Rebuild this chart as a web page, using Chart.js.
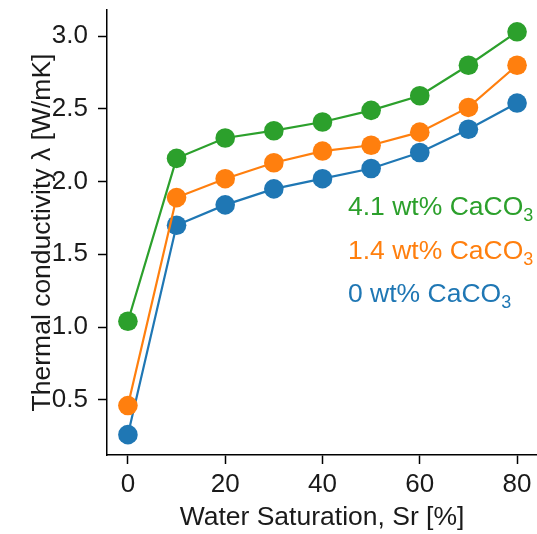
<!DOCTYPE html>
<html>
<head>
<meta charset="utf-8">
<script src="https://cdn.jsdelivr.net/npm/chart.js@4/dist/chart.umd.min.js"></script>
<style>
  html, body { margin: 0; padding: 0; background: #fff; }
  #wrap { width: 537px; height: 534px; position: relative; }
</style>
</head>
<body>
<div id="wrap"><canvas id="c" width="537" height="534"></canvas></div>
<script>
// ---- data ----
const saturation = [0, 10, 20, 30, 40, 50, 60, 70, 80];
const k_0wt   = [0.26, 1.70, 1.84, 1.95, 2.02, 2.09, 2.20, 2.36, 2.54];
const k_1_4wt = [0.46, 1.89, 2.02, 2.13, 2.21, 2.25, 2.34, 2.51, 2.80];
const k_4_1wt = [1.04, 2.16, 2.30, 2.35, 2.41, 2.49, 2.59, 2.80, 3.03];
const seriesNames = ['4.1 wt% CaCO', '1.4 wt% CaCO', '0 wt% CaCO'];
const xTicks = [0, 20, 40, 60, 80];
const yTicks = [0.5, 1.0, 1.5, 2.0, 2.5, 3.0];
const xTitle = 'Water Saturation, Sr [%]';
const yTitle = 'Thermal conductivity \u03bb [W/mK]';

const C_BLUE = '#1f77b4', C_ORANGE = '#ff7f0e', C_GREEN = '#2ca02c';
const FONT = '"Liberation Sans", Arial, Helvetica, sans-serif';
const TXT = '#1a1a1a';
const FS = 26;
const FS_T = 26.5;

function pts(ys) { return saturation.map((x, i) => ({ x: x, y: ys[i] })); }
function ds(ys, color) {
  return {
    data: pts(ys), borderColor: color, backgroundColor: color,
    borderWidth: 2.2, pointRadius: 9.8, pointBorderWidth: 0,
    pointBackgroundColor: color, pointHoverRadius: 9.8, tension: 0, clip: false
  };
}

const labelPlugin = {
  id: 'seriesLabels',
  afterDatasetsDraw(chart) {
    const ctx = chart.ctx;
    const colors = [C_GREEN, C_ORANGE, C_BLUE];
    const baselines = [215, 259, 302];
    ctx.save();
    ctx.textBaseline = 'alphabetic';
    ctx.textAlign = 'left';
    seriesNames.forEach((t, i) => {
      ctx.fillStyle = colors[i];
      ctx.font = FS_T + 'px ' + FONT;
      ctx.fillText(t, 348, baselines[i]);
      const w = ctx.measureText(t).width;
      ctx.font = '18px ' + FONT;
      ctx.fillText('3', 348 + w, baselines[i] + 6);
    });
    ctx.restore();
  }
};

new Chart(document.getElementById('c'), {
  type: 'line',
  data: { datasets: [ds(k_4_1wt, C_GREEN), ds(k_1_4wt, C_ORANGE), ds(k_0wt, C_BLUE)] },
  options: {
    responsive: false, animation: false, devicePixelRatio: 1,
    layout: { autoPadding: false, padding: { top: 10, right: 0, left: 0, bottom: 0 } },
    plugins: { legend: { display: false }, tooltip: { enabled: false } },
    scales: {
      x: {
        type: 'linear', min: -4.3, max: 84.1,
        afterBuildTicks: s => { s.ticks = xTicks.map(v => ({ value: v })); },
        afterFit: s => { s.height = 79; s.paddingLeft = 0; s.paddingRight = 0; },
        border: { display: true, color: '#000', width: 1.5 },
        grid: { drawOnChartArea: false, drawTicks: true, tickLength: 9, tickColor: '#000', tickWidth: 1.5 },
        ticks: { color: TXT, font: { family: FONT, size: FS }, padding: 5, maxRotation: 0,
                 callback: v => String(v) },
        title: { display: true, text: xTitle, color: TXT, font: { family: FONT, size: FS_T },
                 padding: { top: 0, bottom: 0 } }
      },
      y: {
        type: 'linear', min: 0.12, max: 3.18,
        afterBuildTicks: s => { s.ticks = yTicks.map(v => ({ value: v })); },
        afterFit: s => { s.width = 107; s.paddingTop = 0; s.paddingBottom = 0; },
        border: { display: true, color: '#000', width: 1.5 },
        grid: { drawOnChartArea: false, drawTicks: true, tickLength: 9, tickColor: '#000', tickWidth: 1.5 },
        ticks: { color: TXT, font: { family: FONT, size: FS }, padding: 10,
                 callback: v => Number(v).toFixed(1) },
        title: { display: true, text: yTitle, color: TXT, font: { family: FONT, size: FS_T },
                 padding: { top: 27, bottom: 0 } }
      }
    }
  },
  plugins: [labelPlugin]
});
</script>
</body>
</html>
